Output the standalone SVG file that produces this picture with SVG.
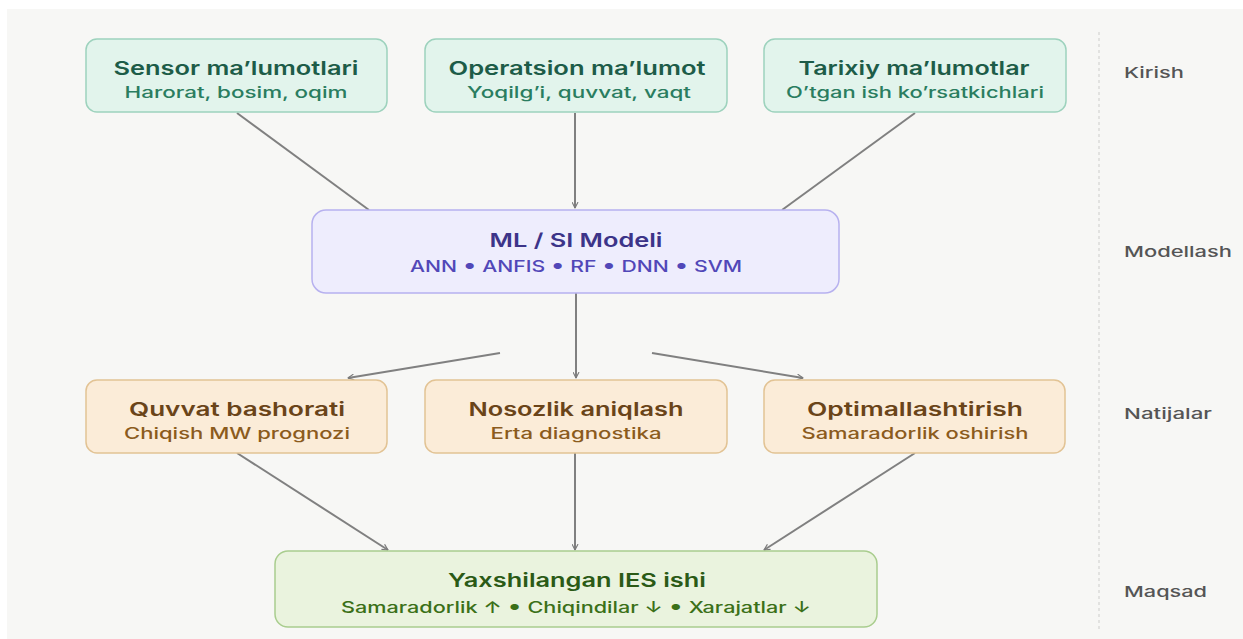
<svg xmlns="http://www.w3.org/2000/svg" width="1243" height="639" viewBox="0 0 1243 639">
<defs>
<marker id="arr" viewBox="0 0 10 10" refX="9" refY="5" markerWidth="7" markerHeight="7" orient="auto-start-reverse" markerUnits="userSpaceOnUse">
<path d="M1,1 L9,5 L1,9" fill="none" stroke="#7a7a7a" stroke-width="1.6" stroke-linecap="round" stroke-linejoin="round"/>
</marker>
<style>
text{font-family:Inter,"Open Sans","Liberation Sans",sans-serif;text-anchor:middle}
.t{font-size:19px;font-weight:600}
.s{font-size:15.5px;font-weight:500}
.lab{font-size:15px;font-weight:500;fill:#555;text-anchor:start}
.in rect{fill:#e2f4ec;stroke:#9dd2bd;stroke-width:1.5}
.in .t{fill:#1d5c48}.in .s{fill:#2a7d60}
.ml rect{fill:#eeedfd;stroke:#b7b1ef;stroke-width:1.5}
.ml .t{fill:#3c3489}.ml .s{fill:#5147b8}
.out rect{fill:#fbecd8;stroke:#e2c394;stroke-width:1.5}
.out .t{fill:#6a4419}.out .s{fill:#8b5b1d}
.goal rect{fill:#eaf3de;stroke:#a9cd8e;stroke-width:1.5}
.goal .t{fill:#2b5a16}.goal .s{fill:#3b7018}
.c line{stroke:#808080;stroke-width:2}
.b{font-size:19px}
</style>
</defs>
<rect x="7" y="9" width="1236" height="630" fill="#f7f7f5"/>
<line x1="1099" y1="32" x2="1099" y2="632" stroke="#e2e2e0" stroke-width="2" stroke-dasharray="3,3"/>
<text class="lab" x="1124" y="78" textLength="60" lengthAdjust="spacingAndGlyphs">Kirish</text>
<text class="lab" x="1124" y="257" textLength="108" lengthAdjust="spacingAndGlyphs">Modellash</text>
<text class="lab" x="1124" y="419" textLength="88" lengthAdjust="spacingAndGlyphs">Natijalar</text>
<text class="lab" x="1124" y="597" textLength="83" lengthAdjust="spacingAndGlyphs">Maqsad</text>
<g class="c">
<line x1="237" y1="113" x2="369" y2="210"/>
<line x1="575" y1="113" x2="575" y2="208" marker-end="url(#arr)"/>
<line x1="915" y1="113" x2="782" y2="210"/>
<line x1="576" y1="293" x2="576" y2="378" marker-end="url(#arr)"/>
<line x1="500" y1="353" x2="348" y2="378" marker-end="url(#arr)"/>
<line x1="652" y1="353" x2="803" y2="378" marker-end="url(#arr)"/>
<line x1="237" y1="453" x2="388" y2="550" marker-end="url(#arr)"/>
<line x1="575" y1="453" x2="575" y2="550" marker-end="url(#arr)"/>
<line x1="915" y1="453" x2="764" y2="550" marker-end="url(#arr)"/>
</g>
<g id="sensor" class="in"><rect x="86" y="39" width="301" height="73" rx="11"/><text class="t" x="236" y="75" textLength="245" lengthAdjust="spacingAndGlyphs">Sensor ma’lumotlari</text><text class="s" x="236" y="98" textLength="223" lengthAdjust="spacingAndGlyphs">Harorat, bosim, oqim</text></g>
<g id="operatsion" class="in"><rect x="425" y="39" width="302" height="73" rx="11"/><text class="t" x="577" y="75" textLength="257" lengthAdjust="spacingAndGlyphs">Operatsion ma’lumot</text><text class="s" x="579" y="98" textLength="224" lengthAdjust="spacingAndGlyphs">Yoqilg’i, quvvat, vaqt</text></g>
<g id="tarixiy" class="in"><rect x="764" y="39" width="302" height="73" rx="11"/><text class="t" x="914" y="75" textLength="231" lengthAdjust="spacingAndGlyphs">Tarixiy ma’lumotlar</text><text class="s" x="915" y="98" textLength="258" lengthAdjust="spacingAndGlyphs">O’tgan ish ko’rsatkichlari</text></g>
<g id="ml" class="ml"><rect x="312" y="210" width="527" height="83" rx="14"/><text class="t" x="576" y="247" textLength="173" lengthAdjust="spacingAndGlyphs">ML / SI Modeli</text><text class="s" x="576" y="272" textLength="332" lengthAdjust="spacingAndGlyphs">ANN <tspan class="b">•</tspan> ANFIS <tspan class="b">•</tspan> RF <tspan class="b">•</tspan> DNN <tspan class="b">•</tspan> SVM</text></g>
<g id="quvvat" class="out"><rect x="86" y="380" width="301" height="73" rx="11"/><text class="t" x="237" y="416" textLength="216" lengthAdjust="spacingAndGlyphs">Quvvat bashorati</text><text class="s" x="237" y="439" textLength="226" lengthAdjust="spacingAndGlyphs">Chiqish MW prognozi</text></g>
<g id="nosozlik" class="out"><rect x="425" y="380" width="302" height="73" rx="11"/><text class="t" x="576" y="416" textLength="215" lengthAdjust="spacingAndGlyphs">Nosozlik aniqlash</text><text class="s" x="576" y="439" textLength="171" lengthAdjust="spacingAndGlyphs">Erta diagnostika</text></g>
<g id="optim" class="out"><rect x="764" y="380" width="301" height="73" rx="11"/><text class="t" x="915" y="416" textLength="216" lengthAdjust="spacingAndGlyphs">Optimallashtirish</text><text class="s" x="915" y="439" textLength="227" lengthAdjust="spacingAndGlyphs">Samaradorlik oshirish</text></g>
<g id="goal" class="goal"><rect x="275" y="551" width="602" height="76" rx="13"/><text class="t" x="577" y="587" textLength="258" lengthAdjust="spacingAndGlyphs">Yaxshilangan IES ishi</text><text class="s" x="576" y="613" textLength="470" lengthAdjust="spacingAndGlyphs">Samaradorlik ↑ <tspan class="b">•</tspan> Chiqindilar ↓ <tspan class="b">•</tspan> Xarajatlar ↓</text></g>
</svg>
